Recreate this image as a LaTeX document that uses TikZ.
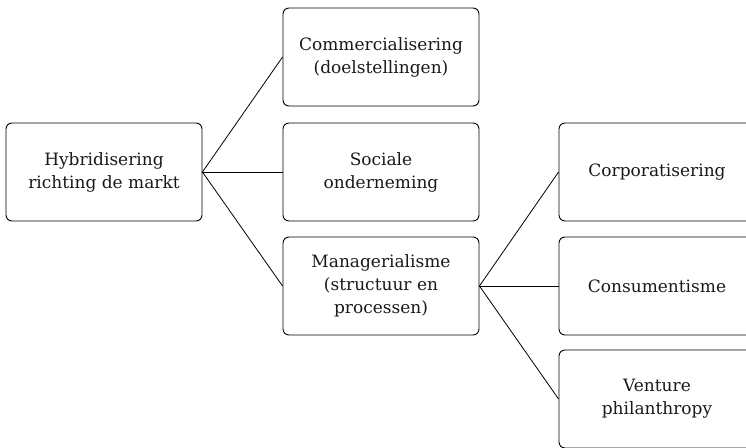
\documentclass[tikz,border=0pt]{standalone}
\usepackage{fontspec}
\setmainfont{DejaVu Serif}
\begin{document}
\begin{tikzpicture}[x=1pt,y=-1pt,
  box/.style={draw, rounded corners=6pt, line width=0.9pt, minimum width=196pt, minimum height=98pt, align=center, inner sep=0pt, font=\fontsize{17}{23}\selectfont, text=black!90},
  link/.style={line width=0.8pt}]
\useasboundingbox (0,0) rectangle (746,447);
\clip (0,0) rectangle (746,447);
\node[box] (h) at (104,172) {Hybridisering\\richting de markt};
\node[box] (c) at (381,57) {Commercialisering\\(doelstellingen)};
\node[box] (s) at (381,172) {Sociale\\onderneming};
\node[box] (m) at (381,286) {Managerialisme\\(structuur en\\processen)};
\node[box] (co) at (657,172) {Corporatisering};
\node[box] (cs) at (657,286) {Consumentisme};
\node[box] (v) at (657,399) {Venture\\philanthropy};
\draw[link] (h.east) -- (c.west);
\draw[link] (h.east) -- (s.west);
\draw[link] (h.east) -- (m.west);
\draw[link] (m.east) -- (co.west);
\draw[link] (m.east) -- (cs.west);
\draw[link] (m.east) -- (v.west);
\end{tikzpicture}
\end{document}
